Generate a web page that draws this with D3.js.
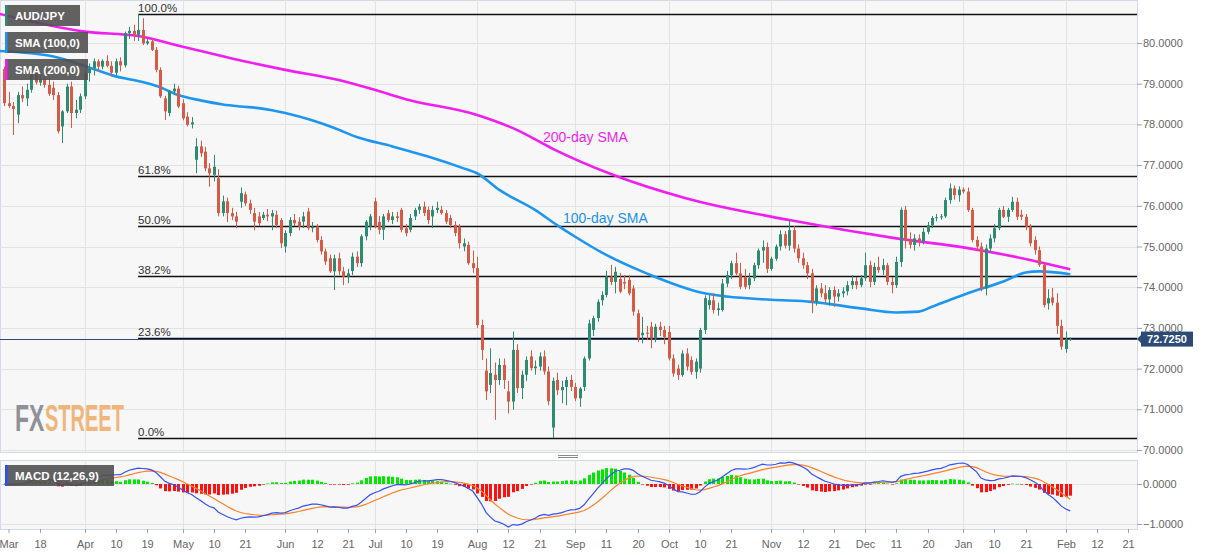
<!DOCTYPE html>
<html lang="en">
<head>
<meta charset="UTF-8">
<script src="https://cdn.jsdelivr.net/npm/d3@7"></script>
<style>
  body { margin: 0; background: #fff; }
  text { font-family: "Liberation Sans", Arial, sans-serif; }
</style>
</head>
<body>
<svg width="1207" height="555"></svg>
<script>
// ---- data ----
var firstDay = "2019-03-06";
// daily candles [open, high, low, close], one per weekday from firstDay
var ohlc = [
  // Mar
  [79.36,79.42,78.45,78.52],[78.52,78.80,78.40,78.45],[78.45,78.55,77.74,78.38],
  [78.24,78.80,78.03,78.72],[78.72,78.93,78.55,78.64],[78.64,79.00,78.45,78.85],[78.85,79.28,78.78,79.22],[79.22,79.46,78.98,79.03],
  [79.03,79.20,78.95,79.12],[79.12,79.18,78.90,78.97],[78.97,79.15,78.70,78.75],[78.90,79.05,78.60,78.72],[78.72,78.80,77.78,77.83],
  [77.95,78.35,77.54,78.32],[78.32,79.00,78.28,78.93],[78.93,79.05,77.91,78.28],[78.28,78.60,78.15,78.36],[78.36,78.76,78.28,78.69],
  // Apr
  [78.69,79.34,78.62,79.26],[79.26,79.50,79.05,79.38],[79.38,79.62,79.20,79.55],[79.55,79.60,79.30,79.42],[79.42,79.60,79.35,79.56],
  [79.56,79.70,79.40,79.44],[79.44,79.55,79.18,79.27],[79.27,79.62,79.20,79.55],[79.55,79.65,79.30,79.45],[79.45,80.28,79.40,80.24],
  [80.24,80.40,80.10,80.30],[80.30,80.45,80.05,80.20],[80.20,80.71,80.05,80.32],[80.32,80.61,79.95,79.99],[79.99,80.10,79.95,80.04],
  [80.04,80.12,79.80,79.83],[79.83,79.90,79.28,79.34],[79.34,79.40,78.65,78.69],[78.64,78.70,78.11,78.32],[78.28,78.85,78.20,78.81],
  [78.81,79.00,78.72,78.88],[78.88,78.95,78.40,78.44],
  // May
  [78.52,78.62,78.10,78.15],[78.19,78.30,77.95,77.99],[78.00,78.18,77.90,78.05],
  [77.13,77.66,76.80,77.46],[77.46,77.60,77.20,77.29],[77.33,77.45,76.85,76.92],[76.92,77.05,76.47,76.80],[76.76,77.25,76.60,76.96],
  [76.68,76.90,75.74,75.82],[75.82,76.25,75.74,76.11],[76.11,76.20,75.60,75.82],[75.82,75.95,75.65,75.74],[75.74,75.85,75.45,75.61],
  [76.10,76.45,75.95,76.31],[76.28,76.35,76.00,76.06],[76.06,76.15,75.80,75.90],[75.82,75.95,75.40,75.61],[75.74,75.85,75.50,75.57],
  [75.70,75.85,75.65,75.78],[75.78,75.92,75.62,75.74],[75.74,75.90,75.40,75.82],[75.78,75.88,75.45,75.53],[75.65,75.70,74.96,75.08],
  // Jun
  [75.00,75.40,74.85,75.33],[75.33,75.72,75.25,75.65],[75.65,75.80,75.50,75.57],[75.61,75.72,75.40,75.49],[75.61,75.85,75.45,75.74],
  [75.86,75.95,75.40,75.45],[75.45,75.60,75.35,75.49],[75.49,75.55,75.10,75.16],[75.16,75.25,74.80,74.88],[74.88,74.95,74.55,74.63],
  [74.71,74.80,74.35,74.39],[74.39,74.80,73.93,74.71],[74.71,74.85,74.30,74.39],[74.39,74.50,74.05,74.26],[74.26,74.45,74.10,74.34],
  [74.40,74.85,74.30,74.75],[74.75,74.88,74.50,74.59],[74.59,75.30,74.50,75.25],[75.25,75.65,75.15,75.61],[75.49,75.80,75.40,75.74],
  // Jul
  [76.11,76.20,75.45,75.49],[75.60,75.75,75.30,75.41],[75.41,75.80,75.16,75.74],[75.82,75.90,75.60,75.65],[75.65,75.85,75.55,75.74],
  [75.74,75.85,75.60,75.70],[75.90,75.95,75.35,75.41],[75.45,75.55,75.25,75.33],[75.41,75.80,75.35,75.70],[75.74,75.95,75.65,75.90],
  [75.90,76.05,75.80,75.98],[75.98,76.10,75.75,75.82],[75.90,75.98,75.55,75.65],[75.74,76.00,75.45,75.90],[75.90,76.10,75.82,75.95],
  [75.90,76.00,75.78,75.82],[75.82,75.90,75.55,75.61],[75.70,75.78,75.45,75.53],[75.53,75.62,75.25,75.33],[75.49,75.55,74.95,75.08],
  [75.00,75.20,74.88,75.08],[75.04,75.12,74.55,74.59],[74.59,74.90,74.35,74.47],
  // Aug
  [74.47,74.75,73.00,73.07],[73.07,73.20,72.21,72.46],
  [71.95,72.25,71.23,71.44],[71.60,72.50,71.40,71.89],[71.85,72.15,70.74,71.72],[71.72,72.25,71.60,72.09],[72.09,72.25,71.50,71.72],
  [71.44,71.70,70.90,71.19],[71.19,72.91,70.99,72.46],[72.46,72.60,71.40,71.52],[71.52,71.95,71.25,71.85],[71.85,72.30,71.70,72.21],
  [72.30,72.45,71.95,72.01],[72.01,72.20,71.85,72.05],[72.05,72.40,71.95,72.30],[72.30,72.45,71.85,71.93],[71.93,72.05,71.10,71.20],
  [70.55,71.78,70.29,71.70],[71.72,71.90,71.35,71.47],[71.47,71.70,71.15,71.55],[71.55,71.80,71.10,71.72],[71.72,71.85,71.45,71.55],
  // Sep
  [71.55,71.65,71.20,71.27],[71.27,71.55,71.06,71.51],[71.55,72.30,71.45,72.25],[72.25,73.20,72.20,73.11],[72.95,73.30,72.80,73.24],
  [73.24,73.70,73.15,73.64],[73.68,73.90,73.55,73.81],[73.81,74.40,73.75,74.26],[74.26,74.55,74.05,74.13],[74.13,74.50,73.85,74.38],
  [74.20,74.35,73.85,73.89],[74.13,74.30,73.95,74.09],[74.18,74.30,73.80,73.85],[73.97,74.05,73.30,73.40],[73.36,73.45,72.65,72.74],
  [72.82,73.27,72.62,72.88],[72.88,73.05,72.70,72.87],[73.03,73.15,72.50,72.74],[72.74,73.10,72.65,73.03],[73.03,73.15,72.80,72.95],
  [72.95,73.05,72.60,72.78],
  // Oct
  [72.90,73.05,72.20,72.25],[72.25,72.35,71.80,71.88],[72.00,72.10,71.72,71.84],[71.84,72.45,71.80,72.37],
  [72.37,72.50,71.95,72.05],[72.21,72.30,71.85,71.92],[71.92,72.25,71.75,72.17],[72.00,73.00,71.90,72.95],[72.95,73.80,72.85,73.73],
  [73.56,73.80,73.45,73.68],[73.68,73.85,73.35,73.44],[73.44,73.62,73.30,73.48],[73.44,74.20,73.40,74.09],[74.09,74.40,74.00,74.30],
  [74.30,74.65,74.20,74.59],[74.59,74.85,74.30,74.34],[74.34,74.60,73.95,74.01],[74.25,74.45,73.95,74.01],[74.05,74.35,73.95,74.22],
  [74.22,74.60,74.15,74.54],[74.54,74.95,74.45,74.90],[74.90,75.15,74.60,74.99],[74.99,75.10,74.35,74.45],
  // Nov
  [74.45,74.75,74.40,74.70],
  [74.70,75.05,74.65,75.00],[75.00,75.40,74.90,75.30],[75.30,75.38,74.95,75.02],[75.02,75.65,74.90,75.40],[75.40,75.50,74.85,74.95],
  [74.95,75.05,74.60,74.71],[74.71,74.85,74.45,74.54],[74.54,74.62,74.20,74.34],[74.34,74.45,73.36,73.64],[73.64,74.05,73.55,73.97],
  [73.97,74.10,73.75,73.85],[73.85,74.05,73.60,73.70],[73.70,74.00,73.55,73.93],[73.93,74.02,73.52,73.77],[73.77,73.95,73.65,73.85],
  [73.85,74.00,73.75,73.90],[73.90,74.15,73.80,74.05],[74.05,74.30,73.95,74.15],[74.15,74.25,73.95,74.05],[74.05,74.30,74.00,74.22],
  // Dec
  [74.22,74.85,74.15,74.54],[74.54,74.65,74.00,74.13],[74.13,74.60,74.05,74.50],[74.50,74.75,74.35,74.42],[74.42,74.70,74.30,74.54],
  [74.54,74.60,74.05,74.13],[74.13,74.25,73.85,74.05],[74.05,74.75,73.98,74.62],[74.62,75.96,74.50,75.90],[75.90,76.00,74.95,75.16],
  [75.16,75.35,74.95,75.04],[75.04,75.30,74.90,75.20],[75.20,75.30,75.00,75.12],[75.12,75.45,75.05,75.36],[75.36,75.60,75.30,75.52],
  [75.52,75.75,75.45,75.70],[75.70,75.80,75.62,75.72],[75.72,75.80,75.66,75.74],[75.74,76.20,75.70,76.14],[76.14,76.55,76.05,76.43],
  [76.43,76.50,76.15,76.26],[76.26,76.48,76.10,76.40],
  // Jan
  [76.40,76.45,76.30,76.35],[76.35,76.45,75.85,75.90],[75.90,75.95,75.10,75.16],
  [75.16,75.25,74.90,75.00],[75.00,75.10,73.90,73.97],[73.97,75.05,73.80,74.95],[74.95,75.30,74.85,75.20],[75.20,75.55,75.10,75.45],
  [75.45,75.95,75.40,75.90],[75.90,76.00,75.70,75.73],[75.73,75.95,75.60,75.90],[75.90,76.22,75.85,76.10],[76.10,76.20,75.65,75.73],
  [75.78,75.90,75.65,75.73],[75.73,75.80,75.40,75.49],[75.49,75.55,75.00,75.08],[75.16,75.25,74.80,74.91],[74.91,75.00,74.50,74.55],
  [74.55,74.60,73.50,73.56],[73.60,73.95,73.45,73.73],[73.75,73.98,73.55,73.62],[73.62,73.85,72.85,73.05],[73.05,73.20,72.46,72.54],
  // Feb
  [72.48,72.91,72.39,72.72],[72.70,72.76,72.68,72.725]
];

var sma100Dates = ["2019-03-04","2019-03-21","2019-04-03","2019-04-10","2019-04-16","2019-04-24","2019-04-30","2019-05-07","2019-05-14",
  "2019-05-20","2019-05-24","2019-05-29","2019-06-03","2019-06-11","2019-06-18","2019-06-25","2019-07-05","2019-07-17","2019-07-29",
  "2019-08-01","2019-08-08","2019-08-20","2019-08-27","2019-09-02","2019-09-10","2019-09-24","2019-10-11","2019-10-18","2019-11-01",
  "2019-11-14","2019-11-29","2019-12-11","2019-12-18","2019-12-23","2020-01-02","2020-01-14","2020-01-21","2020-01-24","2020-02-04"];
var sma100Vals = [79.81,79.67,79.36,79.18,79.09,78.91,78.72,78.59,78.49,
  78.44,78.40,78.35,78.28,78.10,77.91,77.69,77.46,77.21,76.92,
  76.80,76.39,75.90,75.52,75.24,74.85,74.34,73.85,73.77,73.69,
  73.64,73.48,73.38,73.40,73.52,73.85,74.14,74.36,74.39,74.32];

var sma200Dates = ["2019-03-04","2019-04-01","2019-04-17","2019-05-01","2019-05-16","2019-06-03","2019-06-19","2019-07-01","2019-07-10",
  "2019-08-01","2019-08-14","2019-08-26","2019-09-12","2019-10-07","2019-11-07","2019-12-11","2020-01-02","2020-01-22","2020-02-04"];
var sma200Vals = [80.74,80.28,80.17,79.91,79.62,79.34,79.09,78.85,78.62,
  78.23,77.86,77.40,76.78,76.18,75.65,75.20,74.96,74.67,74.44];

var priceTicks = [70,71,72,73,74,75,76,77,78,79,80];
var macdTicks = [0,-1];
var tickDates = ["2019-03-06","2019-03-18","2019-04-01","2019-04-10","2019-04-19","2019-05-01","2019-05-10","2019-05-21",
  "2019-06-03","2019-06-12","2019-06-21","2019-07-01","2019-07-10","2019-07-19","2019-08-01","2019-08-12","2019-08-21",
  "2019-09-02","2019-09-11","2019-09-20","2019-10-01","2019-10-10","2019-10-21","2019-11-01","2019-11-12","2019-11-21",
  "2019-12-02","2019-12-11","2019-12-20","2020-01-01","2020-01-10","2020-01-21","2020-02-03","2020-02-12","2020-02-21"];
var tickLabels = ["Mar","18","Apr","10","19","May","10","21","Jun","12","21","Jul","10","19","Aug","12","21",
  "Sep","11","20","Oct","10","21","Nov","12","21","Dec","11","20","Jan","10","21","Feb","12","21"];
var fibRatios = [1, 0.618, 0.5, 0.382, 0.236, 0];
var fibLabels = ["100.0%","61.8%","50.0%","38.2%","23.6%","0.0%"];
var lastPrice = 72.725;

// ---- layout ----
var svg = d3.select("svg"),
    plotW = 1137,
    priceTop = 0, priceBottom = 452,
    macdTop = 460, macdBottom = 529,
    upColor = "#2f8a72", downColor = "#d65a46";

var parse = d3.utcParse("%Y-%m-%d"), fmt = d3.utcFormat("%Y-%m-%d");
var allDays = d3.utcDay.range(parse("2019-03-04"), parse("2020-03-01"))
    .filter(function(d){ return d.getUTCDay() % 6 !== 0; });
var dayIndex = new Map(allDays.map(function(d, i){ return [fmt(d), i]; }));
var startIdx = dayIndex.get(firstDay);

var candles = ohlc.map(function(r, k){
  return {i: startIdx + k, o: r[0], h: r[1], l: r[2], c: r[3]};
});

var x = d3.scaleLinear().domain([0, 256]).range([-4.6, -4.6 + 4.46 * 256]);
var y = d3.scaleLinear().domain([70, 80]).range([450, 43]);
var ym = d3.scaleLinear().domain([-1, 0]).range([524, 484]);

// MACD (12,26,9) from the closes
var e12 = candles[0].c, e26 = candles[0].c, sig = 0;
candles.forEach(function(d, k){
  e12 += (d.c - e12) * 2 / 13;
  e26 += (d.c - e26) * 2 / 27;
  d.macd = e12 - e26;
  sig = k ? sig + (d.macd - sig) * 0.2 : d.macd;
  d.sig = sig;
  d.hist = d.macd - sig;
});

var defs = svg.append("defs");
defs.append("clipPath").attr("id", "clipP").append("rect")
  .attr("x", 0).attr("y", priceTop).attr("width", plotW).attr("height", priceBottom - priceTop);
defs.append("clipPath").attr("id", "clipM").append("rect")
  .attr("x", 0).attr("y", macdTop).attr("width", plotW).attr("height", macdBottom - macdTop);

// panels
svg.append("rect").attr("x", 0.5).attr("y", priceTop + 0.5).attr("width", plotW).attr("height", priceBottom - priceTop)
  .attr("fill", "#f7f7f7").attr("stroke", "#d3d9e6");
svg.append("rect").attr("x", 0.5).attr("y", macdTop + 0.5).attr("width", plotW).attr("height", macdBottom - macdTop)
  .attr("fill", "#f7f7f7").attr("stroke", "#d3d9e6");

// splitter handle
[455.5, 457.5].forEach(function(yy){
  svg.append("line").attr("x1", 558).attr("x2", 578).attr("y1", yy).attr("y2", yy)
    .attr("stroke", "#8a8a8a").attr("stroke-width", 1);
});

var gp = svg.append("g").attr("clip-path", "url(#clipP)");
var gm = svg.append("g").attr("clip-path", "url(#clipM)");

// gridlines
gp.selectAll(".hgrid").data(priceTicks).enter().append("line")
  .attr("x1", 0).attr("x2", plotW)
  .attr("y1", function(d){ return Math.round(y(d)) + 0.5; })
  .attr("y2", function(d){ return Math.round(y(d)) + 0.5; })
  .attr("stroke", "#e3e3e3");
gm.selectAll(".hgrid").data(macdTicks).enter().append("line")
  .attr("x1", 0).attr("x2", plotW)
  .attr("y1", function(d){ return Math.round(ym(d)) + 0.5; })
  .attr("y2", function(d){ return Math.round(ym(d)) + 0.5; })
  .attr("stroke", "#e3e3e3");

var monthTicks = tickDates.filter(function(d, k){ return isNaN(+tickLabels[k]) && k > 0; });
[gp, gm].forEach(function(g){
  g.selectAll(".vgrid").data(monthTicks).enter().append("line")
    .attr("x1", function(d){ return Math.round(x(dayIndex.get(d))) + 0.5; })
    .attr("x2", function(d){ return Math.round(x(dayIndex.get(d))) + 0.5; })
    .attr("y1", 0).attr("y2", 555)
    .attr("stroke", "#e3e3e3");
});

// fibonacci retracement between the swing high and low
var hiC = candles.reduce(function(a, b){ return b.h > a.h ? b : a; });
var loC = candles.reduce(function(a, b){ return b.l < a.l ? b : a; });
var fibX = x(hiC.i);
fibRatios.forEach(function(r, k){
  var v = loC.l + r * (hiC.h - loC.l);
  var yy = Math.round(y(v)) + 0.5;
  gp.append("line").attr("x1", fibX).attr("x2", plotW).attr("y1", yy).attr("y2", yy)
    .attr("stroke", "#111").attr("stroke-width", 1.4);
  gp.append("text").attr("x", fibX).attr("y", yy - 3).text(fibLabels[k])
    .attr("font-size", 11.5).attr("fill", "#333");
});

// current price line
gp.append("line").attr("x1", 0).attr("x2", plotW)
  .attr("y1", Math.round(y(lastPrice)) + 0.5).attr("y2", Math.round(y(lastPrice)) + 0.5)
  .attr("stroke", "#2b4a75").attr("stroke-width", 1);

// SMA lines
function smaLine(dates, vals, color){
  var pts = dates.map(function(d, k){ return [x(dayIndex.get(d)), y(vals[k])]; });
  gp.append("path").attr("d", d3.line().curve(d3.curveMonotoneX)(pts))
    .attr("fill", "none").attr("stroke", color).attr("stroke-width", 2.6);
}
smaLine(sma200Dates, sma200Vals, "#f01ef0");
smaLine(sma100Dates, sma100Vals, "#1e96f0");

gp.append("text").attr("x", 543).attr("y", 142).text("200-day SMA")
  .attr("font-size", 14).attr("fill", "#f01ef0");
gp.append("text").attr("x", 563).attr("y", 223).text("100-day SMA")
  .attr("font-size", 14).attr("fill", "#1e90e6");

// candles
var cg = gp.selectAll(".candle").data(candles).enter().append("g");
cg.append("line")
  .attr("x1", function(d){ return Math.round(x(d.i)) + 0.5; })
  .attr("x2", function(d){ return Math.round(x(d.i)) + 0.5; })
  .attr("y1", function(d){ return y(d.h); })
  .attr("y2", function(d){ return y(d.l); })
  .attr("stroke", function(d){ return d.c >= d.o ? upColor : downColor; });
cg.append("rect")
  .attr("x", function(d){ return Math.round(x(d.i)) - 1; })
  .attr("width", 3)
  .attr("y", function(d){ return Math.min(y(d.o), y(d.c)); })
  .attr("height", function(d){ return Math.max(1, Math.abs(y(d.o) - y(d.c))); })
  .attr("fill", function(d){ return d.c >= d.o ? upColor : downColor; });

// MACD panel
gm.selectAll(".hist").data(candles).enter().append("rect")
  .attr("x", function(d){ return Math.round(x(d.i)) - 1; })
  .attr("width", 3)
  .attr("y", function(d){ return Math.min(ym(0), ym(d.hist)); })
  .attr("height", function(d){ return Math.max(0.6, Math.abs(ym(d.hist) - ym(0))); })
  .attr("fill", function(d){ return d.hist >= 0 ? "#00e800" : "#ff1010"; });
gm.append("path").datum(candles)
  .attr("d", d3.line().x(function(d){ return x(d.i); }).y(function(d){ return ym(d.sig); }))
  .attr("fill", "none").attr("stroke", "#ff7f27").attr("stroke-width", 1.2);
gm.append("path").datum(candles)
  .attr("d", d3.line().x(function(d){ return x(d.i); }).y(function(d){ return ym(d.macd); }))
  .attr("fill", "none").attr("stroke", "#3550f5").attr("stroke-width", 1.2);

// right axes
var ax = svg.append("g").attr("transform", "translate(" + plotW + ",0)")
  .call(d3.axisRight(y).tickValues(priceTicks).tickFormat(d3.format(".4f")).tickSize(5));
var axm = svg.append("g").attr("transform", "translate(" + plotW + ",0)")
  .call(d3.axisRight(ym).tickValues(macdTicks).tickFormat(d3.format(".4f")).tickSize(5));
[ax, axm].forEach(function(a){
  a.select(".domain").remove();
  a.selectAll("line").attr("stroke", "#9aa3b5");
  a.selectAll("text").attr("font-size", 11).attr("fill", "#666").attr("x", 6)
    .attr("font-family", "'Liberation Sans', Arial, sans-serif");
});

// last price tag
var tagY = y(lastPrice);
svg.append("path")
  .attr("d", "M1137," + tagY + " L1141," + (tagY - 4) + " L1141," + (tagY + 4) + " Z")
  .attr("fill", "#2b4a75");
svg.append("rect").attr("x", 1141).attr("y", tagY - 7.5).attr("width", 52).attr("height", 15).attr("fill", "#2b4a75");
svg.append("text").attr("x", 1167).attr("y", tagY + 4).attr("text-anchor", "middle")
  .attr("font-size", 11).attr("font-weight", "bold").attr("fill", "#fff").text(lastPrice.toFixed(4));

// bottom date axis
tickDates.forEach(function(d, k){
  var xx = Math.round(x(dayIndex.get(d))) + 0.5;
  if (xx < 9) xx = 9;
  svg.append("line").attr("x1", xx).attr("x2", xx).attr("y1", 529).attr("y2", 533).attr("stroke", "#9aa3b5");
  svg.append("text").attr("x", xx).attr("y", 548).attr("text-anchor", "middle")
    .attr("font-size", 11).attr("fill", "#666").text(tickLabels[k]);
});

// legends
function legendBox(yTop, w, label, color){
  var g = svg.append("g");
  g.append("rect").attr("x", 5).attr("y", yTop).attr("width", w).attr("height", 21)
    .attr("fill", "#505050").attr("fill-opacity", 0.9);
  g.append("rect").attr("x", 5).attr("y", yTop).attr("width", 2.5).attr("height", 21).attr("fill", color);
  g.append("text").attr("x", 15).attr("y", yTop + 15).text(label)
    .attr("font-size", 11.5).attr("font-weight", "bold").attr("fill", "#fff");
}
legendBox(5, 75, "AUD/JPY", upColor);
legendBox(32, 83, "SMA (100,0)", "#1e96f0");
legendBox(59, 83, "SMA (200,0)", "#f01ef0");
legendBox(465, 109, "MACD (12,26,9)", "#2a4cff");

// watermark: natural-width text stretched vertically
function mark(txt, x0, size, color){
  svg.append("text")
    .attr("transform", "translate(" + x0 + ",431) scale(1," + (27 / (size * 0.716)).toFixed(3) + ")")
    .attr("font-weight", "bold").attr("font-size", size)
    .attr("fill", color).text(txt);
}
mark("FX", 15, 23, "#8e9198");
mark("STREET", 45, 20, "#f0b57a");
</script>
</body>
</html>
